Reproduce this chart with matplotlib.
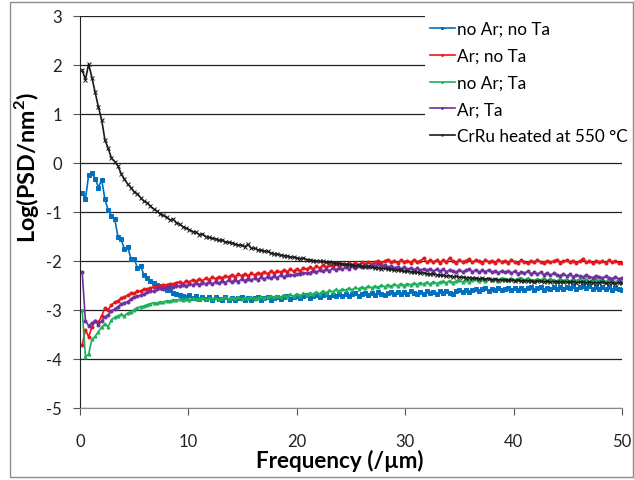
import matplotlib

matplotlib.use("Agg")

import matplotlib.pyplot as plt
import numpy as np
from matplotlib.patches import Rectangle

# frequency grid (/um), 0.3 um step from 0.2 to 50
freq = np.round(0.2 + 0.3 * np.arange(167), 2)

crru_heated = [
    1.90, 1.70, 2.02, 1.74, 1.44, 1.14, 0.88, 0.47, 0.30, 0.10,
    0.03, -0.06, -0.22, -0.33, -0.43, -0.50, -0.59, -0.63, -0.71, -0.78,
    -0.81, -0.88, -0.94, -0.98, -1.04, -1.07, -1.11, -1.16, -1.15, -1.22,
    -1.25, -1.30, -1.33, -1.36, -1.40, -1.41, -1.46, -1.45, -1.50, -1.52,
    -1.54, -1.55, -1.58, -1.57, -1.61, -1.62, -1.63, -1.66, -1.67, -1.68,
    -1.71, -1.66, -1.74, -1.74, -1.77, -1.78, -1.80, -1.80, -1.84, -1.85,
    -1.86, -1.88, -1.89, -1.90, -1.92, -1.92, -1.94, -1.95, -1.94, -1.97,
    -1.98, -1.99, -2.00, -2.01, -2.01, -2.03, -2.02, -2.04, -2.05, -2.05,
    -2.06, -2.07, -2.08, -2.08, -2.10, -2.09, -2.11, -2.12, -2.11, -2.13,
    -2.14, -2.14, -2.16, -2.15, -2.17, -2.17, -2.18, -2.19, -2.19, -2.21,
    -2.21, -2.22, -2.23, -2.23, -2.25, -2.24, -2.26, -2.27, -2.26, -2.28,
    -2.29, -2.29, -2.31, -2.30, -2.32, -2.31, -2.33, -2.33, -2.34, -2.34,
    -2.35, -2.35, -2.36, -2.35, -2.37, -2.36, -2.38, -2.37, -2.38, -2.39,
    -2.38, -2.39, -2.39, -2.40, -2.39, -2.41, -2.40, -2.41, -2.40, -2.42,
    -2.41, -2.41, -2.42, -2.41, -2.43, -2.42, -2.42, -2.43, -2.42, -2.43,
    -2.43, -2.42, -2.44, -2.43, -2.43, -2.44, -2.43, -2.45, -2.44, -2.44,
    -2.43, -2.45, -2.44, -2.44, -2.46, -2.44, -2.45,
]

ar_no_ta = [
    -3.72, -3.40, -3.55, -3.34, -3.22, -3.25, -3.12, -2.96, -2.99, -2.90,
    -2.84, -2.81, -2.76, -2.73, -2.70, -2.66, -2.66, -2.62, -2.61, -2.58,
    -2.57, -2.55, -2.53, -2.52, -2.51, -2.48, -2.49, -2.46, -2.47, -2.44,
    -2.42, -2.46, -2.40, -2.43, -2.38, -2.41, -2.37, -2.40, -2.35, -2.38,
    -2.33, -2.36, -2.32, -2.35, -2.30, -2.33, -2.28, -2.32, -2.27, -2.30,
    -2.26, -2.30, -2.25, -2.29, -2.24, -2.27, -2.22, -2.26, -2.21, -2.25,
    -2.20, -2.23, -2.19, -2.22, -2.17, -2.21, -2.16, -2.20, -2.14, -2.17,
    -2.13, -2.16, -2.11, -2.14, -2.09, -2.13, -2.08, -2.11, -2.07, -2.10,
    -2.06, -2.09, -2.05, -2.08, -2.04, -2.08, -2.03, -2.07, -2.02, -2.06,
    -2.03, -1.99, -2.04, -2.00, -1.97, -2.03, -1.99, -2.04, -1.98, -2.02,
    -1.99, -2.04, -1.97, -2.02, -2.00, -1.94, -2.03, -1.98, -2.03, -1.98,
    -2.04, -1.98, -2.02, -1.93, -2.01, -2.04, -1.97, -2.02, -1.99, -1.96,
    -2.03, -1.98, -2.01, -2.05, -1.97, -2.02, -1.99, -2.04, -1.97, -2.02,
    -1.99, -2.04, -1.97, -2.02, -2.04, -1.98, -2.02, -2.05, -1.99, -2.03,
    -1.97, -2.02, -2.05, -1.99, -2.03, -2.00, -1.97, -2.04, -2.01, -1.98,
    -2.03, -1.99, -2.05, -2.00, -1.95, -2.03, -2.00, -2.05, -1.99, -2.03,
    -2.00, -2.04, -1.98, -2.03, -2.00, -2.04, -2.05,
]

ar_ta = [
    -2.22, -3.22, -3.32, -3.27, -3.22, -3.31, -3.22, -3.14, -3.10, -3.02,
    -2.98, -2.93, -2.88, -2.85, -2.83, -2.77, -2.73, -2.72, -2.70, -2.67,
    -2.64, -2.61, -2.62, -2.58, -2.56, -2.57, -2.54, -2.52, -2.53, -2.50,
    -2.52, -2.48, -2.51, -2.46, -2.49, -2.45, -2.48, -2.44, -2.47, -2.43,
    -2.47, -2.42, -2.45, -2.41, -2.44, -2.39, -2.43, -2.38, -2.42, -2.37,
    -2.40, -2.36, -2.39, -2.35, -2.38, -2.33, -2.37, -2.32, -2.35, -2.31,
    -2.34, -2.29, -2.33, -2.28, -2.29, -2.28, -2.27, -2.26, -2.25, -2.24,
    -2.24, -2.20, -2.23, -2.18, -2.21, -2.17, -2.20, -2.15, -2.18, -2.14,
    -2.17, -2.13, -2.16, -2.11, -2.15, -2.10, -2.13, -2.09, -2.12, -2.08,
    -2.11, -2.07, -2.11, -2.08, -2.13, -2.11, -2.14, -2.12, -2.16, -2.13,
    -2.17, -2.14, -2.18, -2.15, -2.19, -2.16, -2.19, -2.17, -2.21, -2.17,
    -2.21, -2.17, -2.22, -2.18, -2.21, -2.23, -2.18, -2.22, -2.19, -2.17,
    -2.22, -2.18, -2.23, -2.19, -2.22, -2.18, -2.23, -2.20, -2.24, -2.20,
    -2.23, -2.21, -2.24, -2.21, -2.26, -2.22, -2.25, -2.21, -2.26, -2.23,
    -2.27, -2.23, -2.28, -2.24, -2.29, -2.25, -2.28, -2.30, -2.26, -2.31,
    -2.27, -2.32, -2.28, -2.31, -2.33, -2.29, -2.32, -2.34, -2.30, -2.33,
    -2.35, -2.31, -2.34, -2.36, -2.32, -2.37, -2.34,
]

no_ar_ta = [
    -3.00, -3.96, -3.90, -3.60, -3.54, -3.44, -3.35, -3.28, -3.34, -3.20,
    -3.15, -3.12, -3.09, -3.12, -3.06, -3.04, -2.99, -2.95, -2.93, -2.92,
    -2.89, -2.87, -2.85, -2.86, -2.83, -2.84, -2.81, -2.82, -2.79, -2.80,
    -2.78, -2.79, -2.77, -2.79, -2.76, -2.78, -2.77, -2.75, -2.78, -2.76,
    -2.77, -2.75, -2.78, -2.76, -2.74, -2.77, -2.75, -2.76, -2.74, -2.77,
    -2.75, -2.76, -2.74, -2.77, -2.75, -2.73, -2.76, -2.74, -2.72, -2.74,
    -2.71, -2.74, -2.69, -2.73, -2.68, -2.72, -2.67, -2.71, -2.66, -2.69,
    -2.65, -2.68, -2.63, -2.67, -2.61, -2.65, -2.60, -2.63, -2.58, -2.62,
    -2.57, -2.60, -2.55, -2.59, -2.54, -2.57, -2.53, -2.56, -2.51, -2.55,
    -2.51, -2.54, -2.49, -2.53, -2.48, -2.52, -2.47, -2.51, -2.46, -2.50,
    -2.46, -2.49, -2.45, -2.48, -2.44, -2.47, -2.43, -2.47, -2.42, -2.46,
    -2.43, -2.41, -2.45, -2.40, -2.44, -2.41, -2.39, -2.43, -2.38, -2.42,
    -2.39, -2.37, -2.40, -2.36, -2.40, -2.35, -2.39, -2.36, -2.40, -2.35,
    -2.36, -2.39, -2.35, -2.39, -2.36, -2.34, -2.39, -2.35, -2.38, -2.40,
    -2.36, -2.39, -2.35, -2.40, -2.36, -2.39, -2.41, -2.36, -2.40, -2.37,
    -2.41, -2.37, -2.40, -2.36, -2.41, -2.37, -2.42, -2.38, -2.37, -2.41,
    -2.38, -2.42, -2.37, -2.41, -2.43, -2.38, -2.42,
]

no_ar_no_ta = [
    -0.62, -0.74, -0.24, -0.20, -0.32, -0.50, -0.34, -0.74, -0.96, -1.08,
    -1.14, -1.50, -1.56, -1.76, -1.72, -1.95, -1.96, -2.14, -2.10, -2.29,
    -2.35, -2.40, -2.45, -2.48, -2.52, -2.55, -2.60, -2.60, -2.66, -2.67,
    -2.69, -2.71, -2.73, -2.70, -2.75, -2.71, -2.77, -2.73, -2.78, -2.74,
    -2.79, -2.73, -2.78, -2.80, -2.74, -2.79, -2.75, -2.80, -2.76, -2.74,
    -2.79, -2.75, -2.80, -2.76, -2.73, -2.79, -2.75, -2.74, -2.79, -2.75,
    -2.73, -2.78, -2.74, -2.72, -2.77, -2.73, -2.71, -2.76, -2.72, -2.70,
    -2.75, -2.71, -2.69, -2.74, -2.70, -2.68, -2.73, -2.69, -2.72, -2.67,
    -2.71, -2.67, -2.72, -2.68, -2.66, -2.71, -2.67, -2.65, -2.70, -2.66,
    -2.69, -2.64, -2.68, -2.70, -2.65, -2.63, -2.68, -2.64, -2.67, -2.63,
    -2.67, -2.62, -2.66, -2.68, -2.63, -2.67, -2.62, -2.66, -2.63, -2.67,
    -2.62, -2.66, -2.61, -2.65, -2.67, -2.62, -2.60, -2.64, -2.59, -2.63,
    -2.59, -2.57, -2.62, -2.58, -2.56, -2.61, -2.57, -2.60, -2.56, -2.60,
    -2.57, -2.55, -2.60, -2.56, -2.59, -2.55, -2.60, -2.56, -2.54, -2.59,
    -2.56, -2.54, -2.59, -2.55, -2.58, -2.53, -2.58, -2.54, -2.57, -2.53,
    -2.56, -2.52, -2.57, -2.53, -2.51, -2.56, -2.52, -2.57, -2.53, -2.58,
    -2.54, -2.58, -2.53, -2.59, -2.55, -2.58, -2.59,
]

series = [
    ("no Ar; no Ta", no_ar_no_ta, "#0070C0", "s", 2.8),
    ("Ar; no Ta", ar_no_ta, "#E8161B", "o", 2.2),
    ("no Ar; Ta", no_ar_ta, "#1DB05A", "^", 2.2),
    ("Ar; Ta", ar_ta, "#7030A0", "o", 2.2),
    ("CrRu heated at 550 \u00b0C", crru_heated, "#1A1A1A", "x", 2.2),
]

plt.rcParams["font.family"] = ["Lato", "DejaVu Sans"]
plt.rcParams["axes.unicode_minus"] = False

fig = plt.figure(figsize=(6.34, 4.81), dpi=100)
ax = fig.add_axes([80 / 634, 72 / 481, 542 / 634, 392 / 481])

for label, values, color, marker, size in series:
    ax.plot(freq, values, color=color, lw=1.2, marker=marker, ms=size,
            mew=0.7, label=label)

ax.set_xlim(0, 50)
ax.set_ylim(-5, 3)
ax.set_xticks(np.arange(0, 51, 10))
ax.set_yticks(np.arange(-5, 4, 1))
ax.yaxis.grid(True, color="#222222", lw=0.9)
ax.set_axisbelow(True)
for side in ("top", "right"):
    ax.spines[side].set_visible(False)
ax.spines["left"].set_color("#222222")
ax.spines["bottom"].set_color("#888888")
ax.tick_params(axis="both", direction="out", length=5, width=0.8,
               color="#555555", labelsize=12, labelcolor="#222222")
ax.tick_params(axis="y", pad=8)
ax.tick_params(axis="x", pad=12.7)

ax.set_xlabel("Frequency (/\u00b5m)", fontsize=16.2, fontweight="bold")
ax.xaxis.set_label_coords(0.48, -0.105)
ax.set_ylabel("Log(PSD/nm$^\\mathregular{2}$)", fontsize=16.8, fontweight="bold")
ax.yaxis.set_label_coords(-0.072, 0.615)

# white panel behind the legend hides the grid lines there
ax.add_patch(Rectangle((425 / 634, 1 - 152 / 481), 209 / 634, 150 / 481,
                       transform=fig.transFigure, facecolor="white",
                       edgecolor="none", zorder=1))

ax.legend(loc="upper left", bbox_to_anchor=(430 / 634, 1 - 22 / 481),
          bbox_transform=fig.transFigure, frameon=False, fontsize=12.3,
          handlelength=1.45, handletextpad=0.15, labelspacing=0.63,
          borderaxespad=0, borderpad=0, markerscale=0.6)

# thin border round the whole chart
fig.patches.append(Rectangle((10 / 634, 3 / 481), 623 / 634, 475 / 481,
                             transform=fig.transFigure, fill=False,
                             edgecolor="#8c8c8c", lw=1.0))

fig.savefig("out.png", dpi=100)
